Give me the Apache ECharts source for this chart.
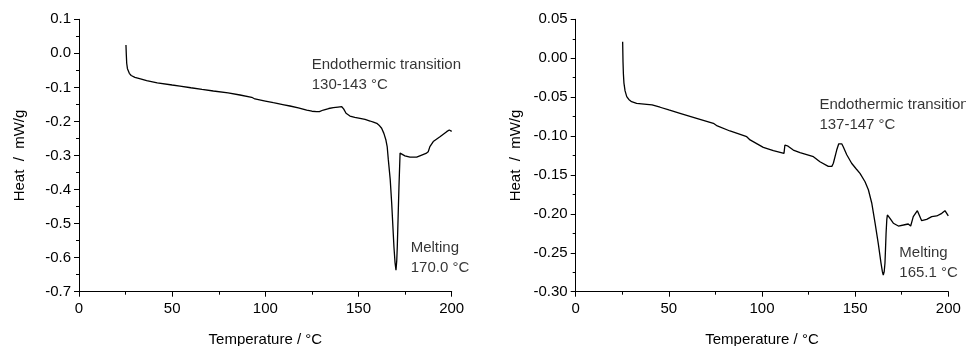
<!DOCTYPE html>
<html>
<head>
<meta charset="utf-8">
<script src="https://cdn.jsdelivr.net/npm/echarts@6/dist/echarts.min.js"></script>
<style>
html,body{margin:0;padding:0;background:#fff;}
#c{width:966px;height:346px;}
</style>
</head>
<body>
<div id="c"></div>
<script>
// ---- data ----
const leftT = [25.2, 25.4, 25.6, 26, 27, 28, 30, 33, 36.3, 42, 50, 54.2, 60, 66, 72.1, 80, 86.4, 92.7, 94.4, 100, 104.3, 110, 113.2, 117.7, 122.2, 125, 127.5, 129, 131.1, 134, 136.5, 139, 141, 142, 143.3, 145.4, 148, 150.8, 153.5, 156.2, 158, 159.8, 161, 162.4, 163.6, 164.7, 165.4, 166.0, 167, 167.8, 169, 169.6, 170.1, 170.5, 170.8, 171.3, 171.7, 172.3, 173.1, 174.9, 177.6, 181.2, 183.9, 186.2, 187.4, 188.3, 190.1, 193.7, 197.3, 198.7, 200];
const leftHeat = [0.0245, -0.005, -0.029, -0.045, -0.0586, -0.065, -0.0704, -0.075, -0.080, -0.087, -0.093, -0.096, -0.101, -0.106, -0.1106, -0.116, -0.1223, -0.129, -0.134, -0.140, -0.145, -0.151, -0.1546, -0.160, -0.167, -0.170, -0.1713, -0.171, -0.1664, -0.162, -0.1596, -0.158, -0.1567, -0.163, -0.176, -0.184, -0.188, -0.1908, -0.194, -0.1987, -0.202, -0.2055, -0.211, -0.220, -0.235, -0.2545, -0.275, -0.313, -0.37, -0.44, -0.568, -0.615, -0.637, -0.61, -0.568, -0.47, -0.392, -0.293, -0.294, -0.301, -0.305, -0.305, -0.299, -0.294, -0.289, -0.274, -0.259, -0.245, -0.230, -0.225, -0.229];

const rightT = [25.2, 25.4, 25.6, 25.9, 26.5, 27.4, 28.5, 30, 32.7, 38.1, 41, 45.3, 50, 56, 64.9, 73.9, 76, 82.8, 91.8, 93.6, 94.5, 100.7, 106.1, 111.8, 112.1, 112.3, 114, 116.8, 120.4, 124.9, 127.6, 131.1, 135.6, 136.5, 137.5, 138.3, 140.1, 141.2, 141.9, 142.8, 143.6, 145.5, 148.1, 150.5, 152.6, 155.3, 157.1, 158.9, 160.7, 162.4, 163.9, 164.6, 165.1, 165.6, 166.0, 166.3, 166.6, 167.0, 167.3, 168.7, 170.5, 173.2, 175.9, 178.5, 179.8, 181.2, 183.4, 185.7, 188.4, 191.1, 193.8, 196.5, 198.2, 200];
const rightHeat = [0.0212, -0.005, -0.02, -0.032, -0.042, -0.0494, -0.053, -0.0559, -0.058, -0.0592, -0.060, -0.063, -0.0665, -0.0708, -0.0772, -0.0836, -0.087, -0.0935, -0.1008, -0.105, -0.107, -0.1145, -0.1188, -0.1222, -0.1222, -0.1115, -0.113, -0.118, -0.1214, -0.1244, -0.1265, -0.133, -0.139, -0.1404, -0.139, -0.135, -0.118, -0.110, -0.1085, -0.110, -0.1137, -0.124, -0.135, -0.142, -0.148, -0.1587, -0.169, -0.186, -0.212, -0.2378, -0.2635, -0.274, -0.2785, -0.274, -0.2635, -0.245, -0.225, -0.207, -0.2014, -0.2057, -0.212, -0.2156, -0.2143, -0.213, -0.2156, -0.2036, -0.1959, -0.2088, -0.207, -0.2036, -0.2027, -0.1993, -0.1959, -0.2027];

// axis ranges / ticks
const xRange = [0, 200, 50];
const leftYRange = [-0.7, 0.1, 0.1];
const rightYRange = [-0.3, 0.05, 0.05];

// annotations: [T, heat, text]
const leftNotes = [[124.9, -0.0636, 'Endothermic transition\n130-143 °C'], [178.0, -0.601, 'Melting\n170.0 °C']];
const rightNotes = [[130.8, -0.0730, 'Endothermic transition\n137-147 °C'], [173.7, -0.263, 'Melting\n165.1 °C']];

const xName = 'Temperature / °C';
const yName = 'Heat  /  mW/g';

// ---- chart ----
const FONT = "'Liberation Sans', Arial, sans-serif";
const TXT = '#000';
function xAxis(gi) {
  return {
    type: 'value', gridIndex: gi, min: xRange[0], max: xRange[1], interval: xRange[2],
    name: xName, nameLocation: 'middle', nameGap: 41,
    nameTextStyle: {fontFamily: FONT, fontSize: 15, color: TXT},
    axisLine: {show: true, onZero: false, lineStyle: {color: '#000', width: 1}},
    axisTick: {show: true, inside: false, length: 5, lineStyle: {color: '#000'}},
    minorTick: {show: true, splitNumber: 2, length: 3, lineStyle: {color: '#000'}},
    axisLabel: {fontFamily: FONT, fontSize: 15, color: TXT, margin: 10},
    splitLine: {show: false}
  };
}
function yAxis(gi, r, dec) {
  return {
    type: 'value', gridIndex: gi, min: r[0], max: r[1], interval: r[2],
    name: yName, nameLocation: 'middle', nameGap: 52,
    nameTextStyle: {fontFamily: FONT, fontSize: 15, color: TXT},
    axisLine: {show: true, onZero: false, lineStyle: {color: '#000', width: 1}},
    axisTick: {show: true, inside: false, length: 5, lineStyle: {color: '#000'}},
    minorTick: {show: true, splitNumber: 2, length: 3, lineStyle: {color: '#000'}},
    axisLabel: {fontFamily: FONT, fontSize: 15, color: TXT, margin: 8,
      formatter: v => (Math.abs(v) < 1e-9 ? 0 : v).toFixed(dec)},
    splitLine: {show: false}
  };
}
function curve(i, T, H) {
  return {
    type: 'line', xAxisIndex: i, yAxisIndex: i, showSymbol: false, symbol: 'none',
    data: T.map((t, k) => [t, H[k]]),
    lineStyle: {color: '#000', width: 1.3}, animation: false, silent: true
  };
}
function notes(i, arr) {
  return {
    type: 'scatter', xAxisIndex: i, yAxisIndex: i, symbolSize: 0.01, silent: true,
    itemStyle: {color: 'rgba(0,0,0,0)'},
    data: arr.map(a => ({value: [a[0], a[1]], text: a[2]})),
    label: {show: true, position: [0, 0], align: 'left', verticalAlign: 'middle',
      formatter: p => p.data.text, fontFamily: FONT, fontSize: 15, lineHeight: 20, color: TXT},
    animation: false
  };
}
const chart = echarts.init(document.getElementById('c'), null, {renderer: 'canvas'});
chart.setOption({
  animation: false,
  backgroundColor: '#fff',
  grid: [
    {left: 79, top: 19.3, width: 372.7, height: 272.4, containLabel: false, outerBoundsMode: 'none'},
    {left: 575.7, top: 19.3, width: 372.6, height: 272.4, containLabel: false, outerBoundsMode: 'none'}
  ],
  xAxis: [xAxis(0), xAxis(1)],
  yAxis: [yAxis(0, leftYRange, 1), yAxis(1, rightYRange, 2)],
  series: [curve(0, leftT, leftHeat), curve(1, rightT, rightHeat), notes(0, leftNotes), notes(1, rightNotes)]
});
</script>
</body>
</html>
